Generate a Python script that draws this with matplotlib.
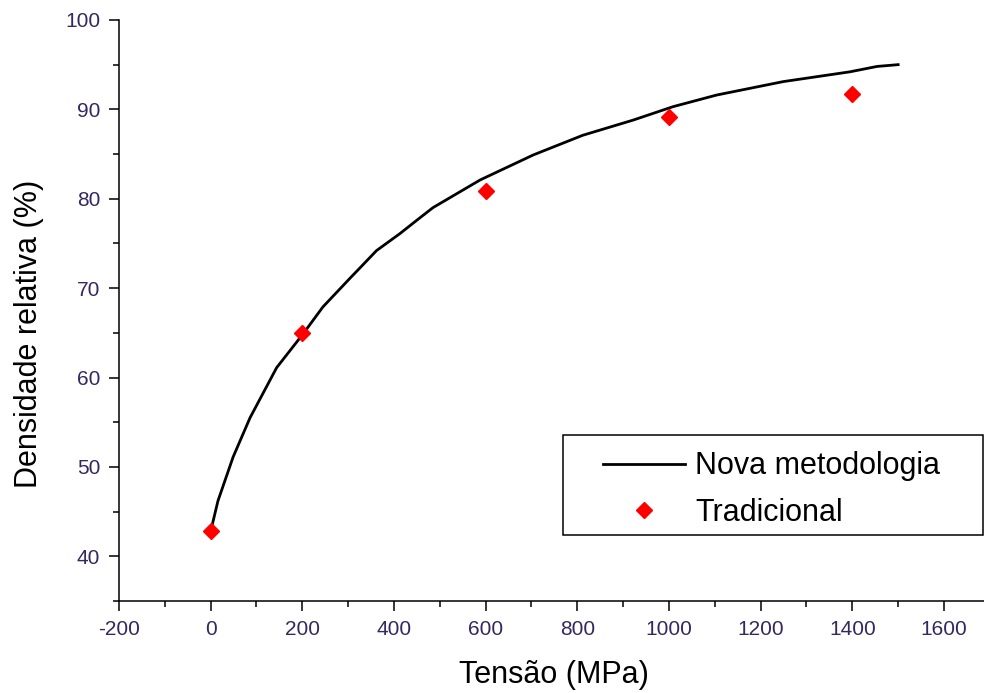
import matplotlib
matplotlib.use('Agg')
from matplotlib import pyplot as plt
from matplotlib import ticker as mticker
from matplotlib.patches import Rectangle

# Data
curve_x = [2, 16, 49, 86, 144, 202, 245, 304, 362, 413, 450, 485, 588, 704,
           812, 922, 1009, 1104, 1249, 1395, 1454, 1500]
curve_y = [43.2, 46.2, 51.1, 55.5, 61.1, 64.9, 67.9, 71.1, 74.2, 76.1, 77.6,
           79.0, 82.1, 84.9, 87.1, 88.8, 90.3, 91.6, 93.1, 94.2, 94.8, 95.0]
trad_x = [0, 200, 600, 1000, 1400]
trad_y = [42.8, 65.0, 80.9, 89.1, 91.7]

plt.rcParams['font.family'] = ['Liberation Sans', 'DejaVu Sans']
plt.rcParams['axes.unicode_minus'] = False

def main():

    fig = plt.figure(figsize=(9.84, 6.93), dpi=100)
    ax = fig.add_axes([0.1209, 0.1328, 0.885, 0.8384])

    ax.plot(curve_x, curve_y, color='black', lw=2.0, label='Nova metodologia')
    ax.plot(trad_x, trad_y, ls='none', marker='D', ms=8, color='#ff0000',
            mec='#ff0000', label='Tradicional')

    ax.set_xlim(-200, 1700)
    ax.set_ylim(35, 100)
    ax.xaxis.set_major_locator(mticker.MultipleLocator(200))
    ax.xaxis.set_minor_locator(mticker.MultipleLocator(100))
    ax.yaxis.set_major_locator(mticker.MultipleLocator(10))
    ax.yaxis.set_minor_locator(mticker.MultipleLocator(5))

    for side in ['top', 'right']:
        ax.spines[side].set_visible(False)
    for side in ['left', 'bottom']:
        ax.spines[side].set_linewidth(1.1)

    tick_color = '#35285f'
    ax.tick_params(which='major', direction='out', length=7.5, width=1.1,
                   labelsize=15, labelcolor=tick_color, pad=6)
    ax.tick_params(which='minor', direction='out', length=4, width=1.1)

    ax.set_xlabel('Tensão (MPa)', fontsize=22)
    ax.set_ylabel('Densidade relativa (%)', fontsize=22)
    ax.xaxis.set_label_coords(0.5, -0.102)
    ax.yaxis.set_label_coords(-0.086, 0.46)

    # Legend box drawn separately, legend itself without frame
    box = Rectangle((0.51, 0.1136), 0.482, 0.172, transform=ax.transAxes,
                    fill=False, edgecolor='black', lw=1.1, clip_on=False)
    ax.add_patch(box)
    ax.legend(loc='center left', bbox_to_anchor=(0.5558, 0.192),
              frameon=False, fontsize=22, borderpad=0, borderaxespad=0,
              handlelength=2.68, handletextpad=0.33, labelspacing=0.53,
              numpoints=1)

    fname = 'out.png'
    print('Writing %s' % (fname))
    fig.savefig(fname, dpi=100)
    plt.close()

if __name__ == '__main__': main()
